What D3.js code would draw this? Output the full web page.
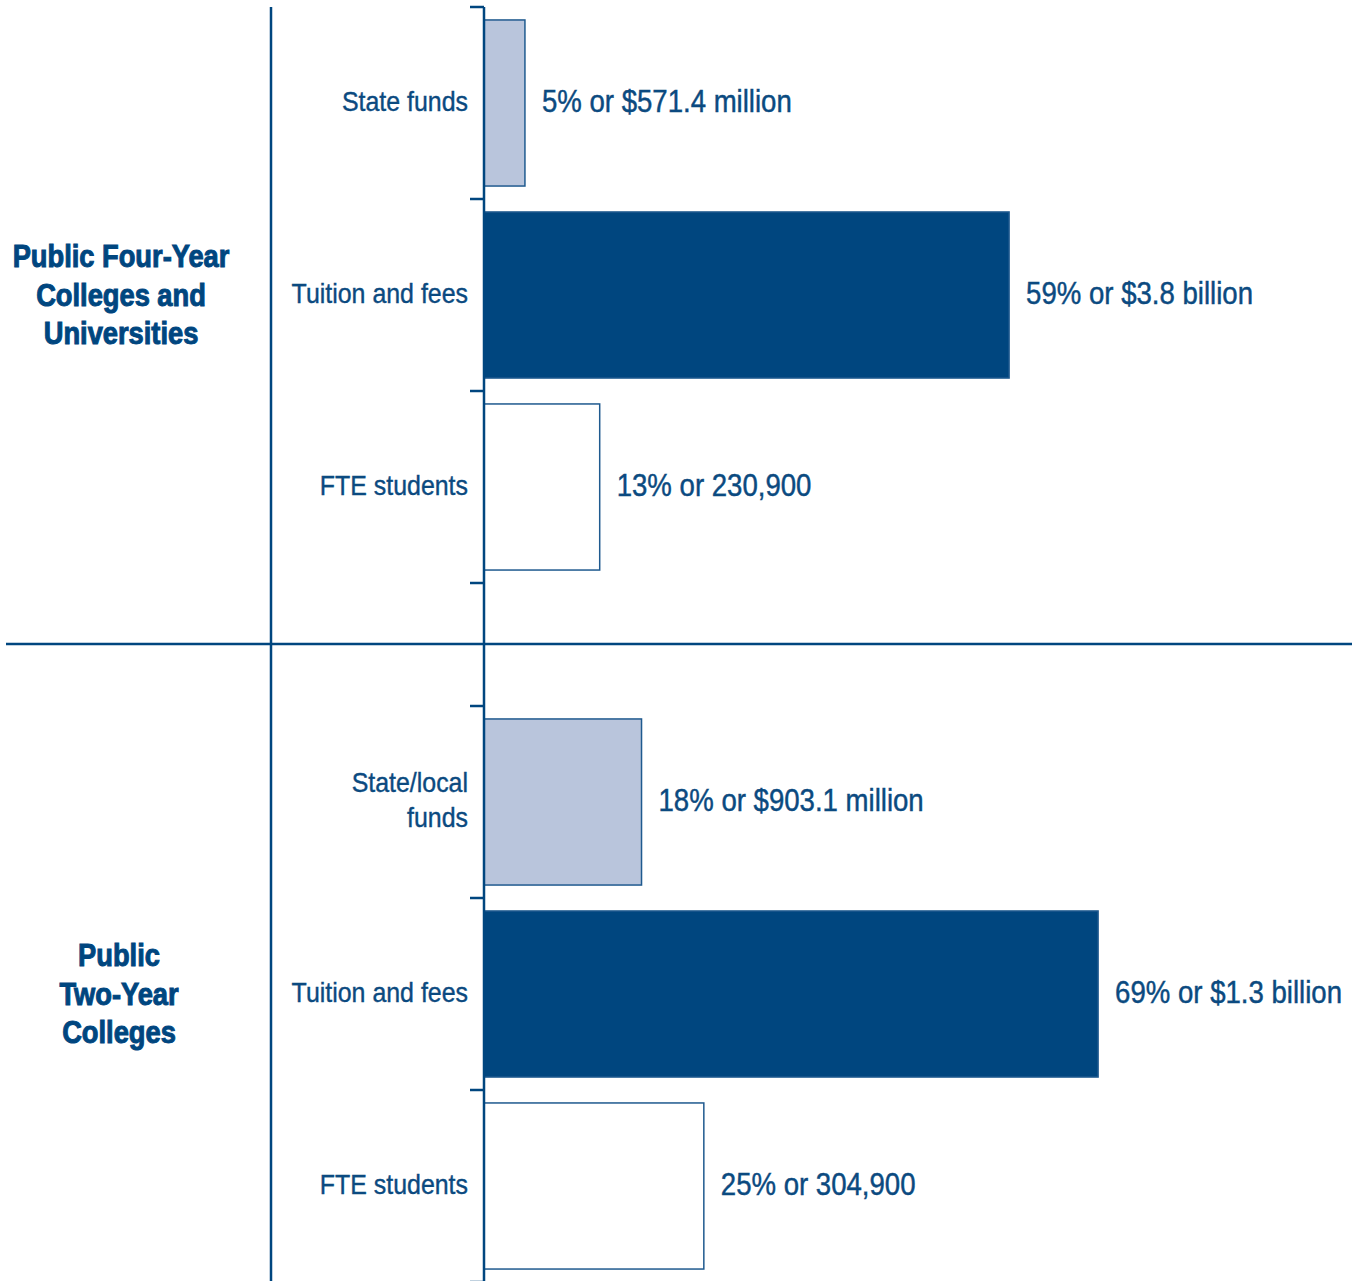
<!DOCTYPE html>
<html>
<head>
<meta charset="utf-8">
<script src="https://cdn.jsdelivr.net/npm/d3@7"></script>
<style>
  body { margin: 0; background: #fff; }
  text { font-family: "Liberation Sans", Arial, sans-serif; }
</style>
</head>
<body>
<div id="chart"></div>
<script>
// data
let groups = ["Public Four-Year Colleges and Universities", "Public Two-Year Colleges"];
let groupLines = [["Public Four-Year", "Colleges and", "Universities"], ["Public", "Two-Year", "Colleges"]];
let fourYearCats = ["State funds", "Tuition and fees", "FTE students"];
let twoYearCats = ["State/local funds", "Tuition and fees", "FTE students"];
let fourYearPct = [4.6, 59, 13];
let twoYearPct = [17.7, 69, 24.7];
let fourYearLabels = ["5% or $571.4 million", "59% or $3.8 billion", "13% or 230,900"];
let twoYearLabels = ["18% or $903.1 million", "69% or $1.3 billion", "25% or 304,900"];

(function () {
    let width = 1364, height = 1281;
    let dark = "#00467f", light = "#b9c5dc", textColor = "#0b4a80";
    let squeeze = 0.89; // fake a condensed face
    let svg = d3.select("#chart")
        .append("svg")
        .attr("width", width)
        .attr("height", height);

    let x = d3.scaleLinear()
        .domain([0, 100])
        .range([484, 484 + 890]);

    let fills = [light, dark, "#fff"];

    let panels = [
        { cats: fourYearCats, pct: fourYearPct, labels: fourYearLabels, lines: groupLines[0], range: [7, 583], cx: 121 },
        { cats: twoYearCats, pct: twoYearPct, labels: twoYearLabels, lines: groupLines[1], range: [706, 1282], cx: 119 }
    ];

    panels.forEach(p => {
        let y = d3.scaleBand()
            .domain(p.cats)
            .range(p.range)
            .paddingInner(0.135)
            .paddingOuter(0.0675);
        let step = y.step();
        let off = step * 0.0675;

        // ticks at band boundaries
        let bounds = p.cats.map(c => y(c) - off);
        bounds.push(p.range[1]);
        svg.append("g")
            .selectAll("line")
            .data(bounds)
            .enter()
            .append("line")
            .attr("x1", 470)
            .attr("x2", 484)
            .attr("y1", d => d)
            .attr("y2", d => d)
            .attr("stroke", dark)
            .attr("stroke-width", 2.5);

        let rows = p.cats.map((c, i) => ({ c: c, v: p.pct[i], l: p.labels[i], f: fills[i] }));

        svg.append("g")
            .selectAll("rect")
            .data(rows)
            .enter()
            .append("rect")
            .attr("x", x(0))
            .attr("y", d => y(d.c))
            .attr("width", d => x(d.v) - x(0))
            .attr("height", y.bandwidth())
            .attr("fill", d => d.f)
            .attr("stroke", "#1f5a8f")
            .attr("stroke-width", 1.5);

        // value labels
        svg.append("g")
            .selectAll("text")
            .data(rows)
            .enter()
            .append("text")
            .attr("transform", d => `translate(${x(d.v) + 17},${y(d.c) + y.bandwidth() / 2 - 2}) scale(${squeeze},1)`)
            .attr("dy", "0.35em")
            .attr("font-size", "31px")
            .attr("fill", textColor)
            .attr("stroke", textColor)
            .attr("stroke-width", 0.45)
            .text(d => d.l);

        // category labels, "State/local funds" on two lines
        let cl = svg.append("g")
            .selectAll("text")
            .data(rows)
            .enter()
            .append("text")
            .attr("transform", d => `translate(468,${y(d.c) + y.bandwidth() / 2 - 2}) scale(${squeeze},1)`)
            .attr("text-anchor", "end")
            .attr("font-size", "28px")
            .attr("fill", textColor)
            .attr("stroke", textColor)
            .attr("stroke-width", 0.4);
        cl.each(function (d) {
            let t = d3.select(this);
            let parts = d.c === "State/local funds" ? ["State/local", "funds"] : [d.c];
            parts.forEach((s, j) => {
                t.append("tspan")
                    .attr("x", 0)
                    .attr("y", (j - (parts.length - 1) / 2) * 35)
                    .attr("dy", "0.35em")
                    .text(s);
            });
        });

        // group title
        let mid = (p.range[0] + p.range[1]) / 2;
        svg.append("text")
            .attr("transform", `translate(${p.cx},${mid}) scale(0.88,1)`)
            .attr("text-anchor", "middle")
            .attr("font-size", "31px")
            .attr("font-weight", "bold")
            .attr("fill", dark)
            .attr("stroke", dark)
            .attr("stroke-width", 1)
            .selectAll("tspan")
            .data(p.lines)
            .enter()
            .append("tspan")
            .attr("x", 0)
            .attr("y", (_, j) => (j - 1) * 38.5)
            .attr("dy", "0.35em")
            .text(d => d);
    });

    // frame lines
    svg.append("line")
        .attr("x1", 484).attr("x2", 484)
        .attr("y1", 7).attr("y2", height)
        .attr("stroke", dark).attr("stroke-width", 2.5);
    svg.append("line")
        .attr("x1", 271).attr("x2", 271)
        .attr("y1", 7).attr("y2", height)
        .attr("stroke", dark).attr("stroke-width", 2.5);
    svg.append("line")
        .attr("x1", 6).attr("x2", 1352)
        .attr("y1", 644).attr("y2", 644)
        .attr("stroke", dark).attr("stroke-width", 2.5);
})()
</script>
</body>
</html>
